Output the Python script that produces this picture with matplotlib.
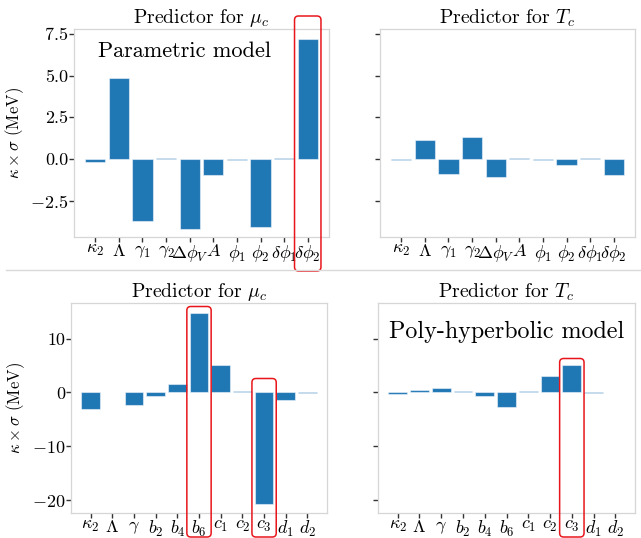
import numpy as np
import matplotlib
matplotlib.use("Agg")
import matplotlib.pyplot as plt
from matplotlib.patches import FancyBboxPatch
from matplotlib.lines import Line2D
from matplotlib.transforms import IdentityTransform

plt.rcParams["font.family"] = "serif"
plt.rcParams["font.serif"] = ["cmr10", "DejaVu Serif"]
plt.rcParams["mathtext.fontset"] = "cm"
plt.rcParams["axes.unicode_minus"] = False
plt.rcParams["axes.formatter.use_mathtext"] = True

# Parametric model
labels_par = [r"$\kappa_2$", r"$\Lambda$", r"$\gamma_1$", r"$\gamma_2$", r"$\Delta\phi_V$",
              r"$A$", r"$\phi_1$", r"$\phi_2$", r"$\delta\phi_1$", r"$\delta\phi_2$"]
mu_par = [-0.15, 4.85, -3.72, 0.05, -4.18, -0.96, -0.06, -4.06, 0.04, 7.22]
tc_par = [-0.04, 1.12, -0.9, 1.3, -1.06, 0.06, -0.03, -0.34, 0.04, -0.94]

# Poly-hyperbolic model
labels_poly = [r"$\kappa_2$", r"$\Lambda$", r"$\gamma$", r"$b_2$", r"$b_4$", r"$b_6$",
               r"$c_1$", r"$c_2$", r"$c_3$", r"$d_1$", r"$d_2$"]
mu_poly = [-3.16, 0.12, -2.42, -0.75, 1.55, 14.8, 5.13, 0.25, -20.7, -1.43, -0.12]
tc_poly = [-0.3, 0.4, 0.86, 0.2, -0.63, -2.79, 0.25, 2.97, 5.07, -0.2, 0.1]

W, H = 641, 538
fig = plt.figure(figsize=(W / 100, H / 100), dpi=100)

def px_axes(l, t, r, b):
    return fig.add_axes([l / W, 1 - b / H, (r - l) / W, (b - t) / H])

ax_tl = px_axes(74, 29, 329, 237)
ax_tr = px_axes(380, 29, 635, 237)
ax_bl = px_axes(71, 303, 327, 513)
ax_br = px_axes(378, 303, 635, 513)

blue = "#1f77b4"

def panel(ax, labels, vals, title, ylim, show_y):
    x = np.arange(len(labels))
    ax.bar(x, vals, width=0.86, color=blue, edgecolor=(1, 1, 1, 0.5), linewidth=0.8)
    ax.set_xticks(x)
    ax.set_xticklabels(labels, fontsize=13)
    ax.set_xlim(-0.9, len(labels) - 0.1)
    ax.set_ylim(*ylim)
    ax.set_title(title, fontsize=14.2, pad=4)
    for s in ax.spines.values():
        s.set_color("#d6d6d6")
        s.set_linewidth(0.9)
    ax.tick_params(direction="out", length=3.5, width=1, color="#333333",
                   labelsize=13, pad=0.8)
    if show_y:
        ax.set_ylabel(r"$\kappa\times\sigma$ (MeV)", fontsize=12, labelpad=3)
    else:
        ax.tick_params(labelleft=False)

panel(ax_tl, labels_par, mu_par, r"Predictor for $\mu_c$", (-4.68, 7.8), True)
panel(ax_tr, labels_par, tc_par, r"Predictor for $T_c$", (-4.68, 7.8), False)
panel(ax_bl, labels_poly, mu_poly, r"Predictor for $\mu_c$", (-22.4, 16.6), True)
panel(ax_br, labels_poly, tc_poly, r"Predictor for $T_c$", (-22.4, 16.6), False)

ax_tl.set_yticks([-2.5, 0, 2.5, 5, 7.5])
ax_tl.set_yticklabels(["$-2.5$", "0.0", "2.5", "5.0", "7.5"])
ax_tr.set_yticks([-2.5, 0, 2.5, 5, 7.5])
ax_bl.set_yticks([-20, -10, 0, 10])
ax_bl.set_yticklabels(["$-20$", "$-10$", "0", "10"])
ax_br.set_yticks([-20, -10, 0, 10])

ax_tl.text(0.435, 0.895, "Parametric model", transform=ax_tl.transAxes,
           ha="center", va="center", fontsize=16)
ax_br.text(0.5, 0.86, "Poly-hyperbolic model", transform=ax_br.transAxes,
           ha="center", va="center", fontsize=17.3)

# separator between the two models
fig.add_artist(Line2D([6 / W, 1], [1 - 269.5 / H, 1 - 269.5 / H],
                      transform=fig.transFigure, color="#d9d9d9", lw=1))

# red highlight boxes around selected parameters
def highlight(ax, idx, top, bottom, half=0.56):
    x0 = ax.transData.transform((idx - half, 0))[0]
    x1 = ax.transData.transform((idx + half, 0))[0]
    box = FancyBboxPatch((x0, H - bottom), x1 - x0, bottom - top,
                         boxstyle="round,pad=0,rounding_size=4",
                         transform=IdentityTransform(), fill=False,
                         edgecolor="#e8161b", linewidth=1.1, clip_on=False)
    fig.add_artist(box)

highlight(ax_tl, labels_par.index(r"$\delta\phi_2$"), 16, 271)
highlight(ax_bl, labels_poly.index(r"$b_6$"), 306.5, 537)
highlight(ax_bl, labels_poly.index(r"$c_3$"), 378.5, 537)
highlight(ax_br, labels_poly.index(r"$c_3$"), 358.5, 537)

fig.savefig("out.png", dpi=100)
